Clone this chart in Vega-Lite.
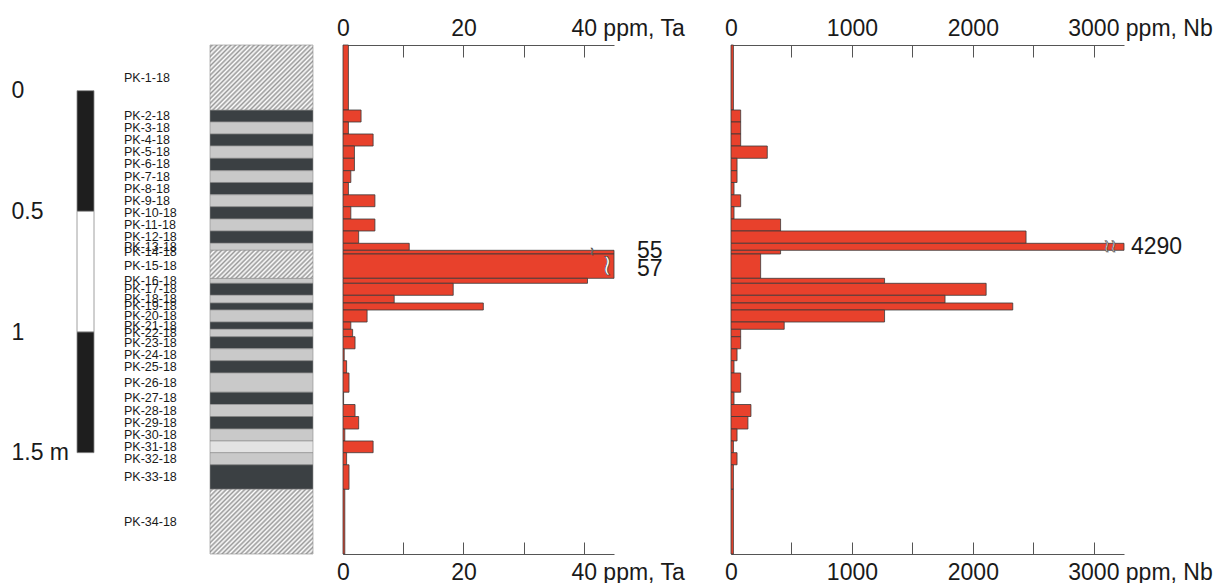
{
  "$schema": "https://vega.github.io/schema/vega-lite/v6.json",
  "background": "white",
  "padding": {"left": 11, "top": 17, "right": 0, "bottom": 0},
  "bounds": "flush",
  "spacing": 30,
  "config": {"view": {"stroke": null}, "font": "Liberation Sans", "axis": {"grid": false}},
  "resolve": {"scale": {"x": "independent", "y": "independent", "color": "independent"}},
  "datasets": {
    "samples": [
      {"sample": "PK-1-18", "top": 0, "bottom": 0.2694, "depth": 0.1347, "ta": 0.9, "nb": 20},
      {"sample": "PK-2-18", "top": 0.2694, "bottom": 0.3191, "depth": 0.2943, "ta": 3.0, "nb": 80},
      {"sample": "PK-3-18", "top": 0.3191, "bottom": 0.3688, "depth": 0.344, "ta": 0.9, "nb": 80},
      {"sample": "PK-4-18", "top": 0.3688, "bottom": 0.4186, "depth": 0.3937, "ta": 5.0, "nb": 80},
      {"sample": "PK-5-18", "top": 0.4186, "bottom": 0.4695, "depth": 0.4441, "ta": 1.9, "nb": 300},
      {"sample": "PK-6-18", "top": 0.4695, "bottom": 0.5209, "depth": 0.4952, "ta": 1.9, "nb": 50},
      {"sample": "PK-7-18", "top": 0.5209, "bottom": 0.5698, "depth": 0.5454, "ta": 1.3, "nb": 50},
      {"sample": "PK-8-18", "top": 0.5698, "bottom": 0.6208, "depth": 0.5953, "ta": 0.9, "nb": 25},
      {"sample": "PK-9-18", "top": 0.6208, "bottom": 0.6701, "depth": 0.6455, "ta": 5.3, "nb": 80},
      {"sample": "PK-10-18", "top": 0.6701, "bottom": 0.7211, "depth": 0.6956, "ta": 1.3, "nb": 25},
      {"sample": "PK-11-18", "top": 0.7211, "bottom": 0.7708, "depth": 0.746, "ta": 5.3, "nb": 410},
      {"sample": "PK-12-18", "top": 0.7708, "bottom": 0.8218, "depth": 0.7963, "ta": 2.6, "nb": 2440},
      {"sample": "PK-13-18", "top": 0.8218, "bottom": 0.8508, "depth": 0.8363, "ta": 11.0, "nb": 4290},
      {"sample": "PK-14-18", "top": 0.8508, "bottom": 0.8661, "depth": 0.8585, "ta": 55, "nb": 410},
      {"sample": "PK-15-18", "top": 0.8661, "bottom": 0.9669, "depth": 0.9165, "ta": 57, "nb": 245},
      {"sample": "PK-16-18", "top": 0.9669, "bottom": 0.9876, "depth": 0.9773, "ta": 40.6, "nb": 1270},
      {"sample": "PK-17-18", "top": 0.9876, "bottom": 1.0373, "depth": 1.0125, "ta": 18.3, "nb": 2110},
      {"sample": "PK-18-18", "top": 1.0373, "bottom": 1.0692, "depth": 1.0533, "ta": 8.5, "nb": 1770},
      {"sample": "PK-19-18", "top": 1.0692, "bottom": 1.0982, "depth": 1.0837, "ta": 23.3, "nb": 2330},
      {"sample": "PK-20-18", "top": 1.0982, "bottom": 1.148, "depth": 1.1231, "ta": 4.0, "nb": 1270},
      {"sample": "PK-21-18", "top": 1.148, "bottom": 1.1782, "depth": 1.1631, "ta": 1.3, "nb": 440},
      {"sample": "PK-22-18", "top": 1.1782, "bottom": 1.2089, "depth": 1.1936, "ta": 1.6, "nb": 80},
      {"sample": "PK-23-18", "top": 1.2089, "bottom": 1.259, "depth": 1.234, "ta": 2.0, "nb": 80},
      {"sample": "PK-24-18", "top": 1.259, "bottom": 1.3083, "depth": 1.2837, "ta": 0.2, "nb": 50},
      {"sample": "PK-25-18", "top": 1.3083, "bottom": 1.3593, "depth": 1.3338, "ta": 0.6, "nb": 25},
      {"sample": "PK-26-18", "top": 1.3593, "bottom": 1.4389, "depth": 1.3991, "ta": 1.0, "nb": 80},
      {"sample": "PK-27-18", "top": 1.4389, "bottom": 1.4899, "depth": 1.4644, "ta": 0.1, "nb": 25},
      {"sample": "PK-28-18", "top": 1.4899, "bottom": 1.5396, "depth": 1.5148, "ta": 2.0, "nb": 165},
      {"sample": "PK-29-18", "top": 1.5396, "bottom": 1.5914, "depth": 1.5655, "ta": 2.6, "nb": 140},
      {"sample": "PK-30-18", "top": 1.5914, "bottom": 1.6411, "depth": 1.6163, "ta": 0.3, "nb": 50},
      {"sample": "PK-31-18", "top": 1.6411, "bottom": 1.6896, "depth": 1.6654, "ta": 5.0, "nb": 20},
      {"sample": "PK-32-18", "top": 1.6896, "bottom": 1.7397, "depth": 1.7147, "ta": 0.6, "nb": 50},
      {"sample": "PK-33-18", "top": 1.7397, "bottom": 1.8413, "depth": 1.7905, "ta": 1.0, "nb": 20},
      {"sample": "PK-34-18", "top": 1.8413, "bottom": 2.1094, "depth": 1.9754, "ta": 0.3, "nb": 20}
    ],
    "beds": [
      {"top": 0, "bottom": 0.2694, "type": "hatched"},
      {"top": 0.2694, "bottom": 0.3191, "type": "dark"},
      {"top": 0.3191, "bottom": 0.3688, "type": "light"},
      {"top": 0.3688, "bottom": 0.4186, "type": "dark"},
      {"top": 0.4186, "bottom": 0.4695, "type": "light"},
      {"top": 0.4695, "bottom": 0.5209, "type": "dark"},
      {"top": 0.5209, "bottom": 0.5698, "type": "light"},
      {"top": 0.5698, "bottom": 0.6208, "type": "dark"},
      {"top": 0.6208, "bottom": 0.6701, "type": "light"},
      {"top": 0.6701, "bottom": 0.7211, "type": "dark"},
      {"top": 0.7211, "bottom": 0.7708, "type": "light"},
      {"top": 0.7708, "bottom": 0.8218, "type": "dark"},
      {"top": 0.8218, "bottom": 0.8508, "type": "light"},
      {"top": 0.8508, "bottom": 0.9669, "type": "hatched"},
      {"top": 0.9669, "bottom": 0.9876, "type": "light"},
      {"top": 0.9876, "bottom": 1.0373, "type": "dark"},
      {"top": 1.0373, "bottom": 1.0692, "type": "light"},
      {"top": 1.0692, "bottom": 1.0982, "type": "dark"},
      {"top": 1.0982, "bottom": 1.148, "type": "light"},
      {"top": 1.148, "bottom": 1.1782, "type": "dark"},
      {"top": 1.1782, "bottom": 1.2089, "type": "light"},
      {"top": 1.2089, "bottom": 1.259, "type": "dark"},
      {"top": 1.259, "bottom": 1.3083, "type": "light"},
      {"top": 1.3083, "bottom": 1.3593, "type": "dark"},
      {"top": 1.3593, "bottom": 1.4389, "type": "light"},
      {"top": 1.4389, "bottom": 1.4899, "type": "dark"},
      {"top": 1.4899, "bottom": 1.5396, "type": "light"},
      {"top": 1.5396, "bottom": 1.5914, "type": "dark"},
      {"top": 1.5914, "bottom": 1.6411, "type": "light"},
      {"top": 1.6411, "bottom": 1.6896, "type": "dotted"},
      {"top": 1.6896, "bottom": 1.7397, "type": "light"},
      {"top": 1.7397, "bottom": 1.8413, "type": "dark"},
      {"top": 1.8413, "bottom": 2.1094, "type": "hatched"}
    ],
    "scalebar": [
      {"from": 0, "to": 0.5, "part": "black"},
      {"from": 0.5, "to": 1, "part": "white"},
      {"from": 1, "to": 1.5, "part": "black"}
    ]
  },
  "hconcat": [
    {
      "width": 17, "height": 509,
      "data": {"name": "scalebar"},
      "mark": {"type": "rect", "stroke": "#888888", "strokeWidth": 0.8},
      "encoding": {
        "x": {"datum": 0, "type": "quantitative", "scale": {"domain": [0, 1]}, "axis": null},
        "x2": {"datum": 1},
        "y": {"field": "from", "type": "quantitative", "scale": {"domain": [-0.1894, 1.92], "reverse": true, "nice": false, "zero": false},
          "axis": {"orient": "left", "values": [0, 0.5, 1, 1.5], "labelExpr": "datum.value == 1.5 ? '1.5 m' : '' + datum.value", "domain": false, "ticks": false, "labelPadding": 66, "labelAlign": "left", "labelBaseline": "middle", "labelFontSize": 23, "labelFont": "Liberation Sans", "labelColor": "#1a1a1a", "title": null, "labelFlush": false, "labelOverlap": false, "labelBound": false}},
        "y2": {"field": "to"},
        "color": {"field": "part", "type": "nominal", "scale": {"domain": ["black", "white"], "range": ["#1e1e1e", "#ffffff"]}, "legend": null}
      }
    },
    {
      "width": 56, "height": 509,
      "data": {"name": "samples"},
      "mark": {"type": "text", "align": "left", "baseline": "middle", "font": "Liberation Sans", "fontSize": 12.5, "color": "#1a1a1a"},
      "encoding": {
        "x": {"datum": 0, "type": "quantitative", "scale": {"domain": [0, 1]}, "axis": null},
        "y": {"field": "depth", "type": "quantitative", "scale": {"domain": [0, 2.1094], "reverse": true, "nice": false, "zero": false}, "axis": null},
        "text": {"field": "sample", "type": "nominal"}
      }
    },
    {
      "width": 103, "height": 509,
      "data": {"name": "beds"},
      "encoding": {
        "x": {"datum": 0, "type": "quantitative", "scale": {"domain": [0, 1]}, "axis": null},
        "x2": {"datum": 1},
        "y": {"field": "top", "type": "quantitative", "scale": {"domain": [0, 2.1094], "reverse": true, "nice": false, "zero": false}, "axis": null},
        "y2": {"field": "bottom"}
      },
      "layer": [
        {
          "transform": [{"filter": "datum.type != 'hatched'"}],
          "mark": {"type": "rect", "stroke": "#8c8c8c", "strokeWidth": 0.6},
          "encoding": {"color": {"field": "type", "type": "nominal", "scale": {"domain": ["dark", "light", "dotted"], "range": ["#3b4043", "#c9c9c9", "#e3e3e3"]}, "legend": null}}
        },
        {
          "transform": [{"filter": "datum.type == 'hatched' && datum.bottom - datum.top > 0.2"}],
          "mark": {"type": "rect", "stroke": "#8c8c8c", "strokeWidth": 0.6,
            "fill": {"gradient": "linear", "x1": 0, "y1": 0, "x2": 1.167, "y2": 0.736, "stops": [
              {"offset": 0, "color": "#ffffff"}, {"offset": 0.0139, "color": "#999999"}, {"offset": 0.0278, "color": "#ffffff"}, {"offset": 0.0417, "color": "#999999"},
              {"offset": 0.0556, "color": "#ffffff"}, {"offset": 0.0694, "color": "#999999"}, {"offset": 0.0833, "color": "#ffffff"}, {"offset": 0.0972, "color": "#999999"},
              {"offset": 0.1111, "color": "#ffffff"}, {"offset": 0.125, "color": "#999999"}, {"offset": 0.1389, "color": "#ffffff"}, {"offset": 0.1528, "color": "#999999"},
              {"offset": 0.1667, "color": "#ffffff"}, {"offset": 0.1806, "color": "#999999"}, {"offset": 0.1944, "color": "#ffffff"}, {"offset": 0.2083, "color": "#999999"},
              {"offset": 0.2222, "color": "#ffffff"}, {"offset": 0.2361, "color": "#999999"}, {"offset": 0.25, "color": "#ffffff"}, {"offset": 0.2639, "color": "#999999"},
              {"offset": 0.2778, "color": "#ffffff"}, {"offset": 0.2917, "color": "#999999"}, {"offset": 0.3056, "color": "#ffffff"}, {"offset": 0.3194, "color": "#999999"},
              {"offset": 0.3333, "color": "#ffffff"}, {"offset": 0.3472, "color": "#999999"}, {"offset": 0.3611, "color": "#ffffff"}, {"offset": 0.375, "color": "#999999"},
              {"offset": 0.3889, "color": "#ffffff"}, {"offset": 0.4028, "color": "#999999"}, {"offset": 0.4167, "color": "#ffffff"}, {"offset": 0.4306, "color": "#999999"},
              {"offset": 0.4444, "color": "#ffffff"}, {"offset": 0.4583, "color": "#999999"}, {"offset": 0.4722, "color": "#ffffff"}, {"offset": 0.4861, "color": "#999999"},
              {"offset": 0.5, "color": "#ffffff"}, {"offset": 0.5139, "color": "#999999"}, {"offset": 0.5278, "color": "#ffffff"}, {"offset": 0.5417, "color": "#999999"},
              {"offset": 0.5556, "color": "#ffffff"}, {"offset": 0.5694, "color": "#999999"}, {"offset": 0.5833, "color": "#ffffff"}, {"offset": 0.5972, "color": "#999999"},
              {"offset": 0.6111, "color": "#ffffff"}, {"offset": 0.625, "color": "#999999"}, {"offset": 0.6389, "color": "#ffffff"}, {"offset": 0.6528, "color": "#999999"},
              {"offset": 0.6667, "color": "#ffffff"}, {"offset": 0.6806, "color": "#999999"}, {"offset": 0.6944, "color": "#ffffff"}, {"offset": 0.7083, "color": "#999999"},
              {"offset": 0.7222, "color": "#ffffff"}, {"offset": 0.7361, "color": "#999999"}, {"offset": 0.75, "color": "#ffffff"}, {"offset": 0.7639, "color": "#999999"},
              {"offset": 0.7778, "color": "#ffffff"}, {"offset": 0.7917, "color": "#999999"}, {"offset": 0.8056, "color": "#ffffff"}, {"offset": 0.8194, "color": "#999999"},
              {"offset": 0.8333, "color": "#ffffff"}, {"offset": 0.8472, "color": "#999999"}, {"offset": 0.8611, "color": "#ffffff"}, {"offset": 0.875, "color": "#999999"},
              {"offset": 0.8889, "color": "#ffffff"}, {"offset": 0.9028, "color": "#999999"}, {"offset": 0.9167, "color": "#ffffff"}, {"offset": 0.9306, "color": "#999999"},
              {"offset": 0.9444, "color": "#ffffff"}, {"offset": 0.9583, "color": "#999999"}, {"offset": 0.9722, "color": "#ffffff"}, {"offset": 0.9861, "color": "#999999"},
              {"offset": 1, "color": "#ffffff"}]}}
        },
        {
          "transform": [{"filter": "datum.type == 'hatched' && datum.bottom - datum.top < 0.2"}],
          "mark": {"type": "rect", "stroke": "#8c8c8c", "strokeWidth": 0.6,
            "fill": {"gradient": "linear", "x1": 0, "y1": 0, "x2": 1.184, "y2": 0.322, "stops": [
              {"offset": 0, "color": "#ffffff"}, {"offset": 0.0179, "color": "#999999"}, {"offset": 0.0357, "color": "#ffffff"}, {"offset": 0.0536, "color": "#999999"},
              {"offset": 0.0714, "color": "#ffffff"}, {"offset": 0.0893, "color": "#999999"}, {"offset": 0.1071, "color": "#ffffff"}, {"offset": 0.125, "color": "#999999"},
              {"offset": 0.1429, "color": "#ffffff"}, {"offset": 0.1607, "color": "#999999"}, {"offset": 0.1786, "color": "#ffffff"}, {"offset": 0.1964, "color": "#999999"},
              {"offset": 0.2143, "color": "#ffffff"}, {"offset": 0.2321, "color": "#999999"}, {"offset": 0.25, "color": "#ffffff"}, {"offset": 0.2679, "color": "#999999"},
              {"offset": 0.2857, "color": "#ffffff"}, {"offset": 0.3036, "color": "#999999"}, {"offset": 0.3214, "color": "#ffffff"}, {"offset": 0.3393, "color": "#999999"},
              {"offset": 0.3571, "color": "#ffffff"}, {"offset": 0.375, "color": "#999999"}, {"offset": 0.3929, "color": "#ffffff"}, {"offset": 0.4107, "color": "#999999"},
              {"offset": 0.4286, "color": "#ffffff"}, {"offset": 0.4464, "color": "#999999"}, {"offset": 0.4643, "color": "#ffffff"}, {"offset": 0.4821, "color": "#999999"},
              {"offset": 0.5, "color": "#ffffff"}, {"offset": 0.5179, "color": "#999999"}, {"offset": 0.5357, "color": "#ffffff"}, {"offset": 0.5536, "color": "#999999"},
              {"offset": 0.5714, "color": "#ffffff"}, {"offset": 0.5893, "color": "#999999"}, {"offset": 0.6071, "color": "#ffffff"}, {"offset": 0.625, "color": "#999999"},
              {"offset": 0.6429, "color": "#ffffff"}, {"offset": 0.6607, "color": "#999999"}, {"offset": 0.6786, "color": "#ffffff"}, {"offset": 0.6964, "color": "#999999"},
              {"offset": 0.7143, "color": "#ffffff"}, {"offset": 0.7321, "color": "#999999"}, {"offset": 0.75, "color": "#ffffff"}, {"offset": 0.7679, "color": "#999999"},
              {"offset": 0.7857, "color": "#ffffff"}, {"offset": 0.8036, "color": "#999999"}, {"offset": 0.8214, "color": "#ffffff"}, {"offset": 0.8393, "color": "#999999"},
              {"offset": 0.8571, "color": "#ffffff"}, {"offset": 0.875, "color": "#999999"}, {"offset": 0.8929, "color": "#ffffff"}, {"offset": 0.9107, "color": "#999999"},
              {"offset": 0.9286, "color": "#ffffff"}, {"offset": 0.9464, "color": "#999999"}, {"offset": 0.9643, "color": "#ffffff"}, {"offset": 0.9821, "color": "#999999"},
              {"offset": 1, "color": "#ffffff"}]}}
        }
      ]
    },
    {
      "width": 271, "height": 509,
      "data": {"name": "samples"},
      "resolve": {"axis": {"x": "independent"}},
      "layer": [
        {
          "mark": {"type": "rect", "fill": "#e8412c", "stroke": "#3a3a3a", "strokeWidth": 0.8},
          "encoding": {
            "x": {"field": "ta", "type": "quantitative", "scale": {"domain": [0, 45], "clamp": true, "nice": false},
              "axis": {"orient": "top", "title": null, "values": [0, 10, 20, 30, 40], "labelExpr": "datum.value == 40 ? '40 ppm, Ta' : (datum.value % 20 == 0 ? datum.label : '')",
                "labelAlign": {"condition": {"test": "datum.value == 40", "value": "left"}, "value": "center"},
                "labelOffset": {"condition": {"test": "datum.value == 40", "value": -13}, "value": 0},
                "labelFlush": false, "labelOverlap": false, "labelBound": false, "tickSize": -12, "tickColor": "#555555", "domainColor": "#555555", "labelPadding": 17, "labelFontSize": 23, "labelFont": "Liberation Sans", "labelColor": "#1a1a1a"}},
            "x2": {"datum": 0},
            "y": {"field": "top", "type": "quantitative", "scale": {"domain": [0, 2.1094], "reverse": true, "nice": false, "zero": false}, "axis": null},
            "y2": {"field": "bottom"}
          }
        },
        {
          "transform": [{"filter": "datum.sample == 'PK-14-18'"}],
          "mark": {"type": "text", "text": "≀", "font": "DejaVu Sans", "fontSize": 11, "fill": "#ffffff", "stroke": "#333333", "strokeWidth": 0.6, "dx": -22, "baseline": "middle"},
          "encoding": {
            "x": {"field": "ta", "type": "quantitative", "scale": {"domain": [0, 45], "clamp": true, "nice": false},
              "axis": {"orient": "bottom", "title": null, "values": [0, 10, 20, 30, 40], "labelExpr": "datum.value == 40 ? '40 ppm, Ta' : (datum.value % 20 == 0 ? datum.label : '')",
                "labelAlign": {"condition": {"test": "datum.value == 40", "value": "left"}, "value": "center"},
                "labelOffset": {"condition": {"test": "datum.value == 40", "value": -13}, "value": 0},
                "labelFlush": false, "labelOverlap": false, "labelBound": false, "tickSize": -12, "tickColor": "#555555", "domainColor": "#555555", "labelPadding": 19, "labelFontSize": 23, "labelFont": "Liberation Sans", "labelColor": "#1a1a1a"}},
            "y": {"field": "depth", "type": "quantitative", "scale": {"domain": [0, 2.1094], "reverse": true, "nice": false, "zero": false}, "axis": null}
          }
        },
        {
          "transform": [{"filter": "datum.sample == 'PK-15-18'"}],
          "mark": {"type": "text", "text": "≀", "font": "DejaVu Sans", "fontSize": 30, "fill": "#ffffff", "stroke": "#333333", "strokeWidth": 0.6, "dx": -7, "baseline": "middle"},
          "encoding": {
            "x": {"field": "ta", "type": "quantitative", "scale": {"domain": [0, 45], "clamp": true, "nice": false}, "axis": null},
            "y": {"field": "depth", "type": "quantitative", "scale": {"domain": [0, 2.1094], "reverse": true, "nice": false, "zero": false}, "axis": null}
          }
        }
      ]
    },
    {
      "width": 57, "height": 509,
      "data": {"name": "samples"},
      "transform": [{"filter": "datum.ta > 45"}],
      "encoding": {
        "x": {"datum": 0, "type": "quantitative", "scale": {"domain": [0, 1]}, "axis": null},
        "y": {"field": "depth", "type": "quantitative", "scale": {"domain": [0, 2.1094], "reverse": true, "nice": false, "zero": false}, "axis": null},
        "text": {"field": "ta", "type": "quantitative"}
      },
      "layer": [
        {"transform": [{"filter": "datum.sample == 'PK-14-18'"}], "mark": {"type": "text", "align": "left", "baseline": "middle", "dx": -7, "dy": -1, "fontSize": 23, "font": "Liberation Sans", "color": "#1a1a1a"}},
        {"transform": [{"filter": "datum.sample == 'PK-15-18'"}], "mark": {"type": "text", "align": "left", "baseline": "middle", "dx": -7, "dy": 3, "fontSize": 23, "font": "Liberation Sans", "color": "#1a1a1a"}}
      ]
    },
    {
      "width": 393, "height": 509,
      "data": {"name": "samples"},
      "resolve": {"axis": {"x": "independent"}},
      "layer": [
        {
          "mark": {"type": "rect", "fill": "#e8412c", "stroke": "#3a3a3a", "strokeWidth": 0.8},
          "encoding": {
            "x": {"field": "nb", "type": "quantitative", "scale": {"domain": [0, 3250], "clamp": true, "nice": false},
              "axis": {"orient": "top", "title": null, "format": "d", "values": [0, 500, 1000, 1500, 2000, 2500, 3000], "labelExpr": "datum.value == 3000 ? '3000 ppm, Nb' : (datum.value % 1000 == 0 ? datum.label : '')",
                "labelAlign": {"condition": {"test": "datum.value == 3000", "value": "left"}, "value": "center"},
                "labelOffset": {"condition": {"test": "datum.value == 3000", "value": -26}, "value": 0},
                "labelFlush": false, "labelOverlap": false, "labelBound": false, "tickSize": -12, "tickColor": "#555555", "domainColor": "#555555", "labelPadding": 17, "labelFontSize": 23, "labelFont": "Liberation Sans", "labelColor": "#1a1a1a"}},
            "x2": {"datum": 0},
            "y": {"field": "top", "type": "quantitative", "scale": {"domain": [0, 2.1094], "reverse": true, "nice": false, "zero": false}, "axis": null},
            "y2": {"field": "bottom"}
          }
        },
        {
          "transform": [{"filter": "datum.sample == 'PK-13-18'"}],
          "mark": {"type": "text", "text": "≀≀", "font": "DejaVu Sans", "fontSize": 18, "fill": "#ffffff", "stroke": "#333333", "strokeWidth": 0.6, "dx": -14, "baseline": "middle"},
          "encoding": {
            "x": {"field": "nb", "type": "quantitative", "scale": {"domain": [0, 3250], "clamp": true, "nice": false},
              "axis": {"orient": "bottom", "title": null, "format": "d", "values": [0, 500, 1000, 1500, 2000, 2500, 3000], "labelExpr": "datum.value == 3000 ? '3000 ppm, Nb' : (datum.value % 1000 == 0 ? datum.label : '')",
                "labelAlign": {"condition": {"test": "datum.value == 3000", "value": "left"}, "value": "center"},
                "labelOffset": {"condition": {"test": "datum.value == 3000", "value": -26}, "value": 0},
                "labelFlush": false, "labelOverlap": false, "labelBound": false, "tickSize": -12, "tickColor": "#555555", "domainColor": "#555555", "labelPadding": 19, "labelFontSize": 23, "labelFont": "Liberation Sans", "labelColor": "#1a1a1a"}},
            "y": {"field": "depth", "type": "quantitative", "scale": {"domain": [0, 2.1094], "reverse": true, "nice": false, "zero": false}, "axis": null}
          }
        },
        {
          "transform": [{"filter": "datum.nb > 3250"}],
          "mark": {"type": "text", "align": "left", "baseline": "middle", "dx": 7, "fontSize": 23, "font": "Liberation Sans", "color": "#1a1a1a"},
          "encoding": {
            "x": {"field": "nb", "type": "quantitative", "scale": {"domain": [0, 3250], "clamp": true, "nice": false}, "axis": null},
            "y": {"field": "depth", "type": "quantitative", "scale": {"domain": [0, 2.1094], "reverse": true, "nice": false, "zero": false}, "axis": null},
            "text": {"field": "nb", "type": "quantitative", "format": "d"}
          }
        }
      ]
    }
  ]
}
